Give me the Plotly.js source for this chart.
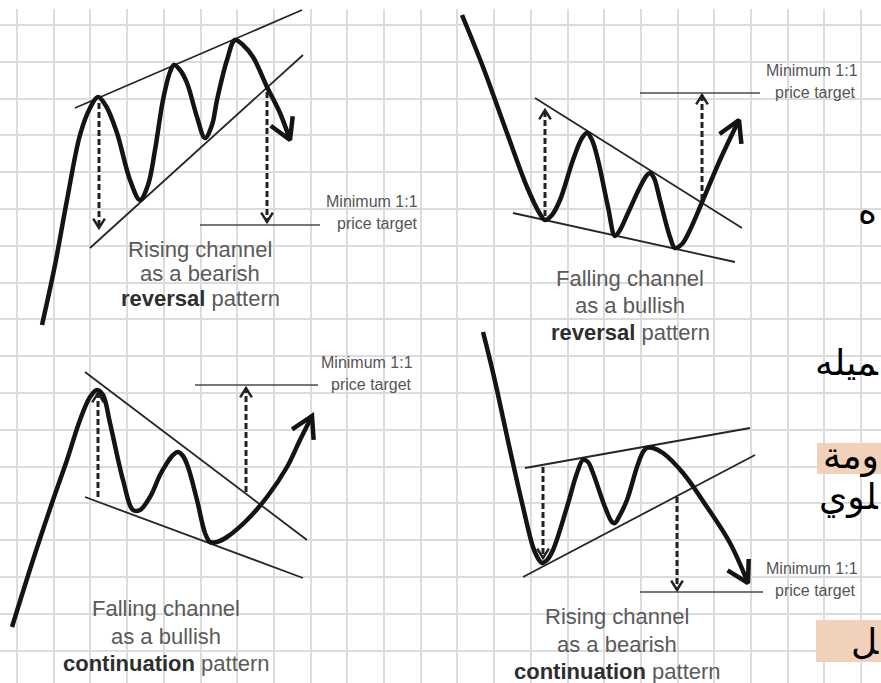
<!DOCTYPE html>
<html><head><meta charset="utf-8">
<script src="https://cdn.plot.ly/plotly-3.0.1.min.js"></script>
<style>html,body{margin:0;padding:0;background:#fff;}#chart{width:881px;height:683px;}</style>
</head><body><div id="chart"></div>
<script>
// ---------- DATA (x to the right, y downward) ----------
// Panel A: rising channel as a bearish reversal
const pathAX = [42, 55, 67, 80, 90, 98, 106, 117, 130, 140, 148, 155, 163, 170, 174, 180, 187, 197, 205, 212, 217, 227, 235, 243, 253, 267, 280, 290];
const pathAY = [325, 265, 200, 135, 108, 97, 106, 133, 180, 200, 185, 150, 100, 72, 65, 70, 83, 117, 138, 125, 100, 60, 40, 45, 57, 87, 113, 140];
const chanAUpX = [75, 302], chanAUpY = [108, 10];
const chanALoX = [90, 303], chanALoY = [248, 55];
const measAX = [99, 267], measAFrom = [103, 92], measATo = [228, 222];
const targAX = [200, 320], targAY = 225;
const capA = ["Rising channel", "as a bearish", "<b>reversal</b> pattern"];

// Panel B: falling channel as a bullish reversal
const pathBX = [462, 483, 507, 527, 540, 545, 552, 560, 573, 582, 587, 592, 598, 608, 615, 620, 628, 640, 647, 650, 654, 660, 670, 675, 682, 690, 703, 720, 739];
const pathBY = [15, 67, 133, 187, 214, 220, 215, 200, 160, 138, 133, 140, 160, 207, 236, 230, 213, 187, 175, 173, 178, 200, 237, 248, 244, 230, 200, 160, 120];
const chanBUpX = [535, 742], chanBUpY = [98, 228];
const chanBLoX = [513, 735], chanBLoY = [213, 262];
const measBX = [545, 702], measBFrom = [216, 200], measBTo = [110, 95];
const targBX = [640, 760], targBY = 93;
const capB = ["Falling channel", "as a bullish", "<b>reversal</b> pattern"];

// Panel C: falling channel as a bullish continuation
const pathCX = [12, 33, 53, 67, 80, 90, 97, 103, 110, 123, 133, 140, 150, 160, 167, 173, 178, 183, 188, 197, 205, 210, 217, 227, 247, 267, 287, 300, 312];
const pathCY = [627, 560, 500, 460, 420, 397, 390, 395, 423, 480, 510, 510, 497, 475, 463, 455, 452, 456, 467, 500, 533, 542, 542, 537, 520, 497, 467, 440, 416];
const chanCUpX = [85, 307], chanCUpY = [372, 540];
const chanCLoX = [85, 303], chanCLoY = [497, 578];
const measCX = [98, 246], measCFrom = [497, 492], measCTo = [393, 388];
const targCX = [195, 318], targCY = 385;
const capC = ["Falling channel", "as a bullish", "<b>continuation</b> pattern"];

// Panel D: rising channel as a bearish continuation
const pathDX = [483, 490, 497, 510, 523, 533, 539, 542, 547, 553, 567, 577, 583, 588, 593, 605, 612, 615, 620, 627, 637, 643, 647, 653, 663, 683, 707, 730, 748];
const pathDY = [332, 360, 390, 450, 507, 547, 560, 563, 560, 550, 507, 473, 460, 462, 473, 507, 522, 523, 515, 500, 467, 452, 448, 448, 453, 473, 507, 543, 583];
const chanDUpX = [525, 750], chanDUpY = [468, 428];
const chanDLoX = [523, 755], chanDLoY = [577, 455];
const measDX = [543, 677], measDFrom = [467, 497], measDTo = [558, 590];
const targDX = [640, 763], targDY = 592;
const capD = ["Rising channel", "as a bearish", "<b>continuation</b> pattern"];

const targetLabel = ["Minimum 1:1", "price target"];

// Arabic fragments visible on the right edge (ZWJ keeps the joined letter forms)
const arabicTexts = ["ه", "\u200Dميله", "ومة", "\u200Dلوي", "\u200Dل"];

// ---------- BUILD ----------
const INK = '#141414';
const traces = [];
function addLine(xs, ys, opts) {
  traces.push({type: 'scatter', mode: 'lines', x: xs, y: ys, hoverinfo: 'skip', showlegend: false,
    line: Object.assign({color: INK, width: 2}, opts)});
}
function head(tx, ty, fx, fy, len, deg) {
  const dx = tx - fx, dy = ty - fy, n = Math.hypot(dx, dy);
  const bx = -dx / n, by = -dy / n, a = deg * Math.PI / 180;
  const r = (s) => [tx + len * (bx * Math.cos(s * a) - by * Math.sin(s * a)), ty + len * (bx * Math.sin(s * a) + by * Math.cos(s * a))];
  const w1 = r(1), w2 = r(-1);
  return {x: [w1[0], tx, w2[0]], y: [w1[1], ty, w2[1]]};
}
function panel(px, py, upX, upY, loX, loY, mX, mFrom, mTo, tX, tY) {
  addLine(upX, upY, {width: 1.8, color: '#262626'});
  addLine(loX, loY, {width: 1.8, color: '#262626'});
  addLine(tX, [tY, tY], {width: 1.5, color: '#4a4a4a'});
  for (let i = 0; i < mX.length; i++) {
    addLine([mX[i], mX[i]], [mFrom[i], mTo[i]], {width: 3, color: '#222', dash: '6px,3px'});
    const h = head(mX[i], mTo[i], mX[i], mFrom[i], 11, 32);
    addLine(h.x, h.y, {width: 2.5, color: '#222'});
  }
  addLine(px, py, {width: 4.5, shape: 'spline', smoothing: 1});
  const n = px.length;
  const h = head(px[n - 1], py[n - 1], px[n - 3], py[n - 3], 24, 30);
  addLine(h.x, h.y, {width: 4.5});
}
panel(pathAX, pathAY, chanAUpX, chanAUpY, chanALoX, chanALoY, measAX, measAFrom, measATo, targAX, targAY);
panel(pathBX, pathBY, chanBUpX, chanBUpY, chanBLoX, chanBLoY, measBX, measBFrom, measBTo, targBX, targBY);
panel(pathCX, pathCY, chanCUpX, chanCUpY, chanCLoX, chanCLoY, measCX, measCFrom, measCTo, targCX, targCY);
panel(pathDX, pathDY, chanDUpX, chanDUpY, chanDLoX, chanDLoY, measDX, measDFrom, measDTo, targDX, targDY);

const annotations = [];
const SANS = 'Liberation Sans, Arial, sans-serif';
function caption(lines, cx, ys) {
  lines.forEach((t, i) => annotations.push({x: cx, y: ys[i], xref: 'x', yref: 'y', showarrow: false,
    text: t.replace('<b>', '<b style="color:#2e2e2e">'), xanchor: 'center', yanchor: 'middle',
    font: {family: SANS, size: 22, color: '#5a5a5a'}}));
}
function tlabel(cx1, cx2, y1, y2) {
  annotations.push({x: cx1, y: y1, xref: 'x', yref: 'y', showarrow: false, text: targetLabel[0], xanchor: 'center', yanchor: 'middle', font: {family: SANS, size: 16, color: '#555'}});
  annotations.push({x: cx2, y: y2, xref: 'x', yref: 'y', showarrow: false, text: targetLabel[1], xanchor: 'center', yanchor: 'middle', font: {family: SANS, size: 16, color: '#555'}});
}
caption(capA, 200, [249, 273, 298]);
caption(capB, 630, [278, 305, 332]);
caption(capC, 166, [608, 636, 663]);
caption(capD, 617, [616, 644, 671]);
tlabel(372, 377, 201, 223);
tlabel(812, 815, 70, 92);
tlabel(367, 371, 362, 384);
tlabel(812, 815, 568, 590);

const ARFONT = {family: 'DejaVu Sans, Noto Sans, sans-serif', size: 36, color: '#000'};
const arPos = [[879, 210, 'right'], [881, 362, 'right'], [881, 456, 'right'], [881, 497, 'right'], [881, 641, 'right']];
arabicTexts.forEach((t, i) => annotations.push({x: arPos[i][0], y: arPos[i][1], xref: 'x', yref: 'y', showarrow: false,
  text: t, xanchor: arPos[i][2], yanchor: 'middle', font: ARFONT}));

const shapes = [
  {type: 'rect', xref: 'x', yref: 'y', x0: 0, x1: 881, y0: 0, y1: 9, fillcolor: '#fff', line: {width: 0}, layer: 'between'},
  {type: 'rect', xref: 'x', yref: 'y', x0: 817, x1: 881, y0: 443, y1: 474, fillcolor: '#f2d1ba', line: {width: 0}, layer: 'between'},
  {type: 'rect', xref: 'x', yref: 'y', x0: 816, x1: 881, y0: 620, y1: 662, fillcolor: '#f2d1ba', line: {width: 0}, layer: 'between'}
];

const axBase = {showticklabels: false, ticks: '', zeroline: false, showline: false, fixedrange: true,
  showgrid: true, gridcolor: '#dcdcdc', gridwidth: 2, tickmode: 'linear'};
const layout = {
  width: 881, height: 683, autosize: false,
  margin: {l: 0, r: 0, t: 0, b: 0, pad: 0},
  paper_bgcolor: '#fff', plot_bgcolor: '#fff', showlegend: false,
  xaxis: Object.assign({}, axBase, {range: [0, 881], tick0: 17, dtick: 36.7}),
  yaxis: Object.assign({}, axBase, {range: [683, 0], tick0: 25, dtick: 36.8}),
  annotations: annotations, shapes: shapes
};
Plotly.newPlot('chart', traces, layout, {staticPlot: true, displayModeBar: false});
</script></body></html>
